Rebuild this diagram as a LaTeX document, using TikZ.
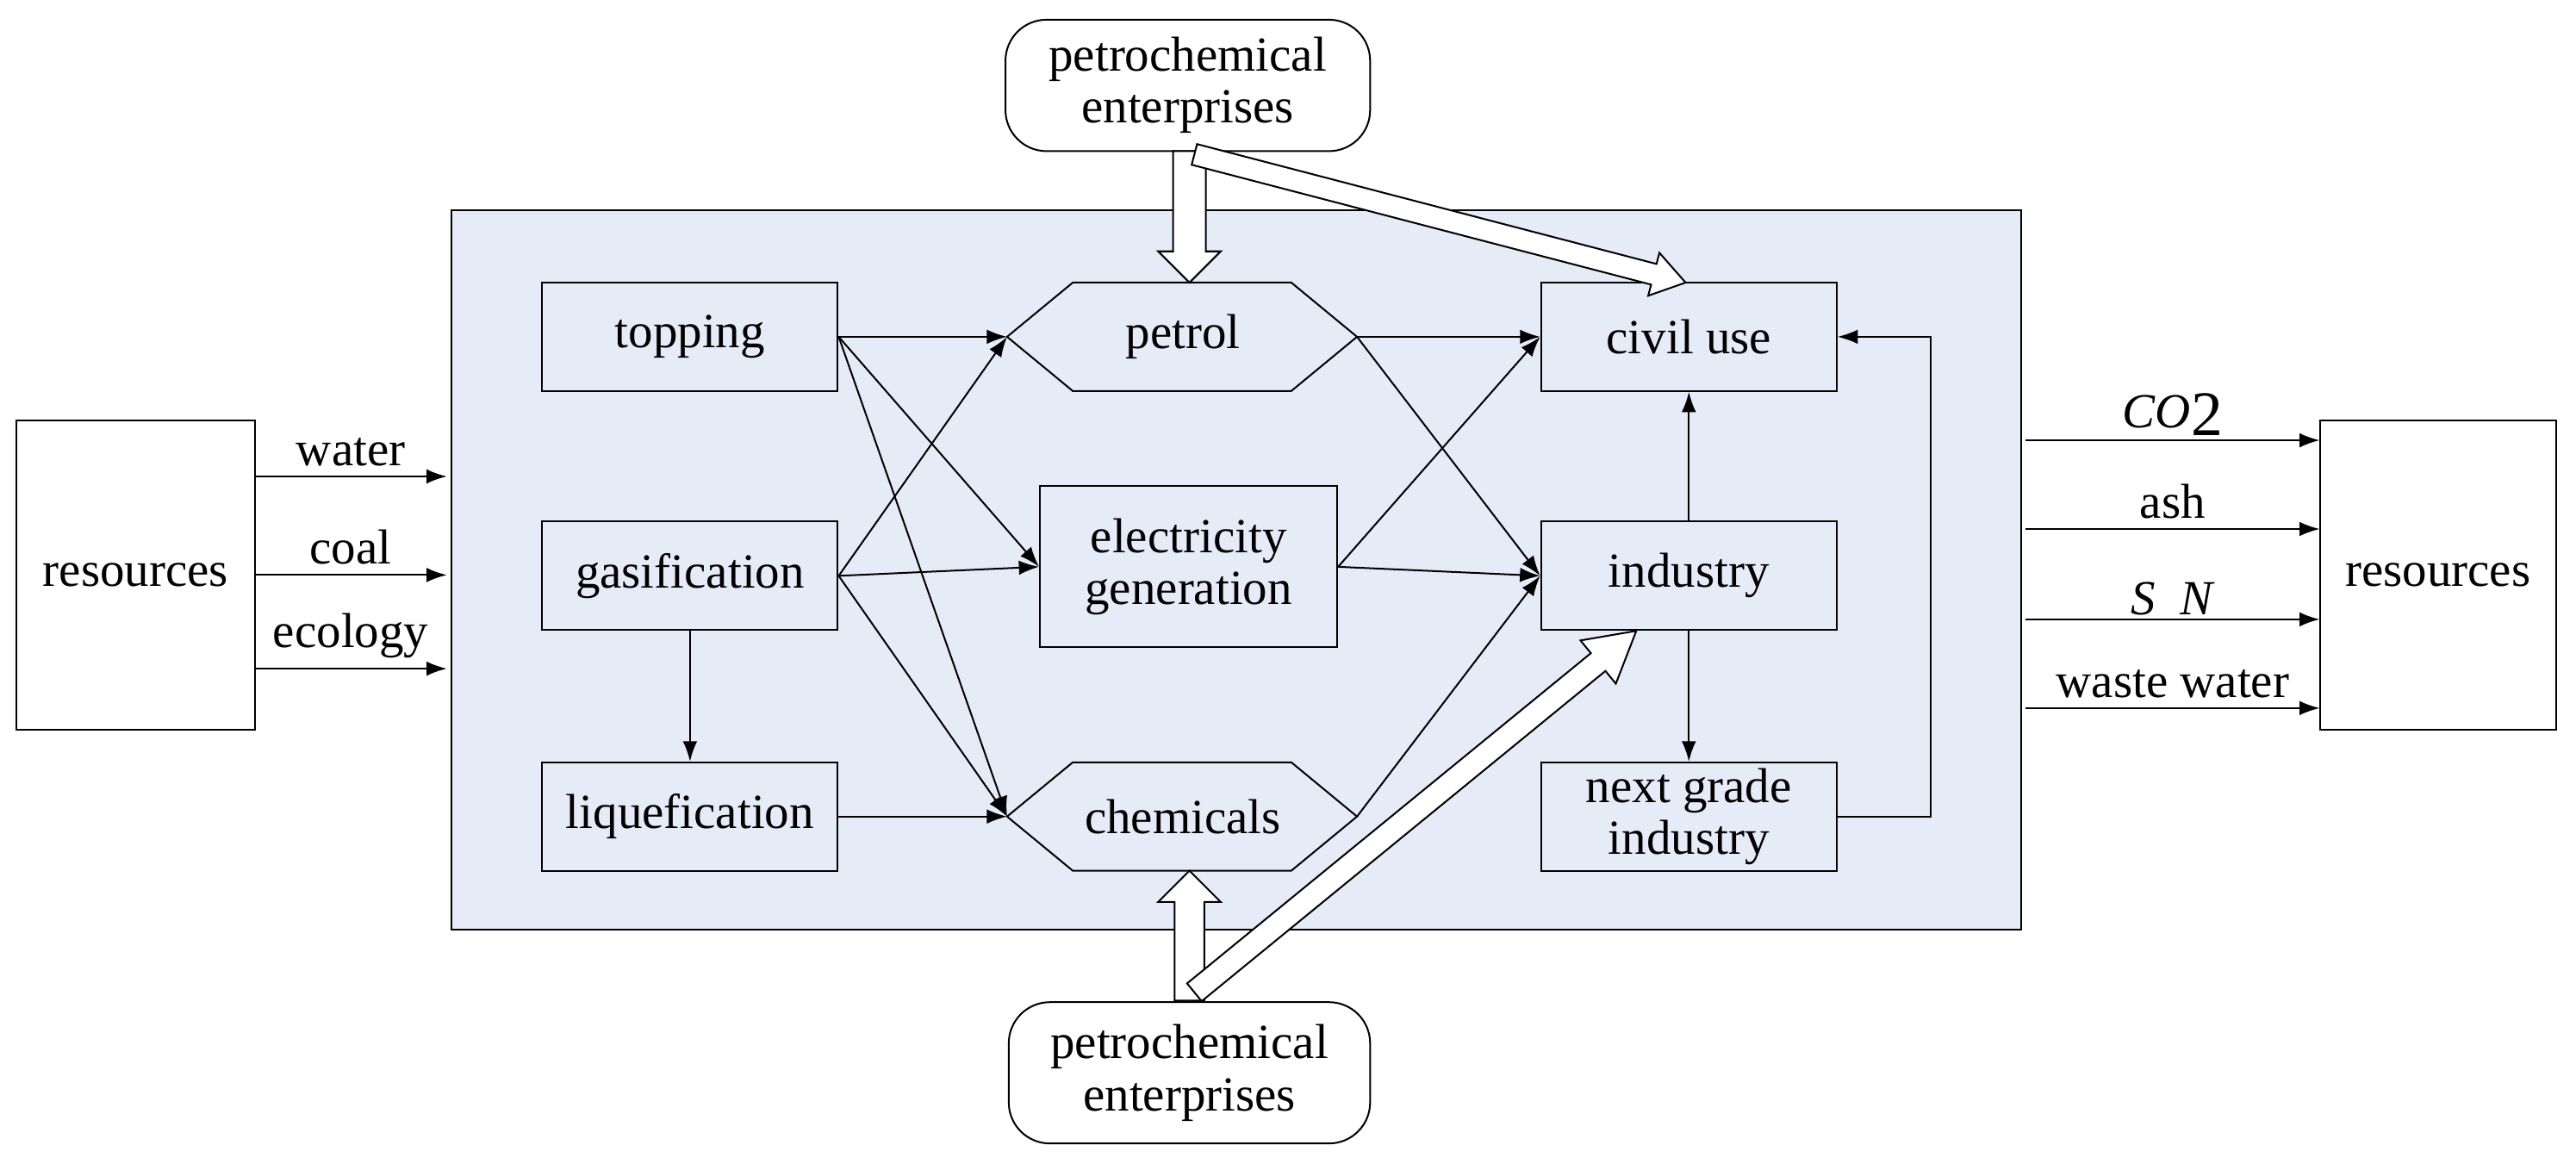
\documentclass[tikz,border=0pt]{standalone}
\usepackage{fontspec}
\setmainfont{Liberation Serif}
\usetikzlibrary{calc,arrows.meta}
\definecolor{panel}{RGB}{230,236,247}
\tikzset{
  box/.style={draw,line width=0.6pt,fill=panel,minimum width=3.6cm,minimum height=1.32cm,align=center,inner sep=0pt},
  arr/.style={-{Latex[length=7pt,width=5pt]},line width=0.6pt},
  lbl/.style={font=\fontsize{17}{18}\selectfont},
}
\newcommand{\blockarrow}[5]{% A, B, w, hw, hl
  \draw[line width=0.6pt,fill=white] let \p1=($(#2)!#5!(#1)$) in
   ($(#1)!#3!90:(#2)$) -- ($(\p1)!#3!90:(#2)$) -- ($(\p1)!#4!90:(#2)$) -- (#2)
   -- ($(\p1)!#4!-90:(#2)$) -- ($(\p1)!#3!-90:(#2)$) -- ($(#1)!#3!-90:(#2)$) -- cycle;}
\begin{document}
\begin{tikzpicture}[x=0.02cm,y=-0.02cm,font=\fontsize{17}{18}\selectfont]
\useasboundingbox (0,0) rectangle (1568,712);
\draw[line width=0.6pt,fill=panel] (275,128) rectangle (1230,566);
% side boxes
\node[draw,line width=0.6pt,minimum width=2.9cm,minimum height=3.76cm] (resL) at (82.5,350) {resources};
\node[draw,line width=0.6pt,minimum width=2.88cm,minimum height=3.76cm] (resR) at (1484,350) {resources};
% inner nodes
\node[box] (top) at (420,205) {topping};
\node[box] (gas) at (420,350.5) {gasification};
\node[box] (liq) at (420,497) {liquefication};
\node[box,minimum width=3.62cm,minimum height=1.96cm] (ele) at (723.5,345) {electricity\\generation};
\node[box] (civ) at (1028,205) {civil use};
\node[box] (ind) at (1028,350.5) {industry};
\node[box] (nxt) at (1028,497) {next grade\\industry};
% hexagons
\draw[line width=0.6pt,fill=panel] (613,205) -- (653,172) -- (786,172) -- (826,205) -- (786,238) -- (653,238) -- cycle;
\node (pet) at (720,205) {petrol};
\coordinate (petL) at (613,205); \coordinate (petR) at (826,205);
\draw[line width=0.6pt,fill=panel] (613,497) -- (653,464) -- (786,464) -- (826,497) -- (786,530) -- (653,530) -- cycle;
\node (che) at (720,497) {chemicals};
\coordinate (cheL) at (613,497); \coordinate (cheR) at (826,497);
% petrochemical enterprises
\node[draw,line width=0.6pt,rounded corners=0.5cm,minimum width=4.44cm,minimum height=1.6cm,align=center] (peT) at (723,52) {petrochemical\\enterprises};
\node[draw,line width=0.6pt,rounded corners=0.5cm,minimum width=4.4cm,minimum height=1.72cm,align=center] (peB) at (724,653) {petrochemical\\enterprises};
% block arrows
\coordinate (a1) at (724,92); \coordinate (b1) at (724,172);
\blockarrow{a1}{b1}{0.2cm}{0.38cm}{0.38cm}
\coordinate (a2) at (727,94); \coordinate (b2) at (1026,172);
\blockarrow{a2}{b2}{0.13cm}{0.27cm}{0.4cm}
\coordinate (a3) at (724,609); \coordinate (b3) at (724,530);
\blockarrow{a3}{b3}{0.18cm}{0.38cm}{0.38cm}
\coordinate (a4) at (727,604); \coordinate (b4) at (996,384);
\blockarrow{a4}{b4}{0.14cm}{0.34cm}{0.6cm}
% connectors
\draw[arr] (top.east) -- (petL);
\draw[arr] (top.east) -- (ele.west);
\draw[arr] (top.east) -- (cheL);
\draw[arr] (gas.east) -- (petL);
\draw[arr] (gas.east) -- (ele.west);
\draw[arr] (gas.east) -- (cheL);
\draw[arr] (liq.east) -- (cheL);
\draw[arr] (gas.south) -- (liq.north);
\draw[arr] (petR) -- (civ.west);
\draw[arr] (petR) -- (ind.west);
\draw[arr] (ele.east) -- (civ.west);
\draw[arr] (ele.east) -- (ind.west);
\draw[arr] (cheR) -- (ind.west);
\draw[arr] (ind.north) -- (civ.south);
\draw[arr] (ind.south) -- (nxt.north);
\draw[arr] (nxt.east) -- (1175,497) |- (civ.east);
% inputs
\coordinate (w0) at (155,290); \coordinate (w1) at (272,290);
\coordinate (c0) at (155,350); \coordinate (c1) at (272,350);
\coordinate (e0) at (155,407); \coordinate (e1) at (272,407);
\draw[arr] (w0) -- node[above] (lw) {water} (w1);
\draw[arr] (c0) -- node[above] (lc) {coal} (c1);
\draw[arr] (e0) -- node[above] (le) {ecology} (e1);
% outputs
\coordinate (o1) at (1233,268); \coordinate (p1) at (1412,268);
\coordinate (o2) at (1233,322); \coordinate (p2) at (1412,322);
\coordinate (o3) at (1233,377); \coordinate (p3) at (1412,377);
\coordinate (o4) at (1233,431); \coordinate (p4) at (1412,431);
\draw[arr] (o1) -- node[above,yshift=-2pt] (l1) {\textit{CO}\raisebox{-0.35ex}{\fontsize{22}{22}\selectfont 2}} (p1);
\draw[arr] (o2) -- node[above] (l2) {ash} (p2);
\draw[arr] (o3) -- node[above,inner sep=1pt] (l3) {\textit{S}\hspace{0.5em}\textit{N}} (p3);
\draw[arr] (o4) -- node[above] (l4) {waste water} (p4);
\end{tikzpicture}
\end{document}
